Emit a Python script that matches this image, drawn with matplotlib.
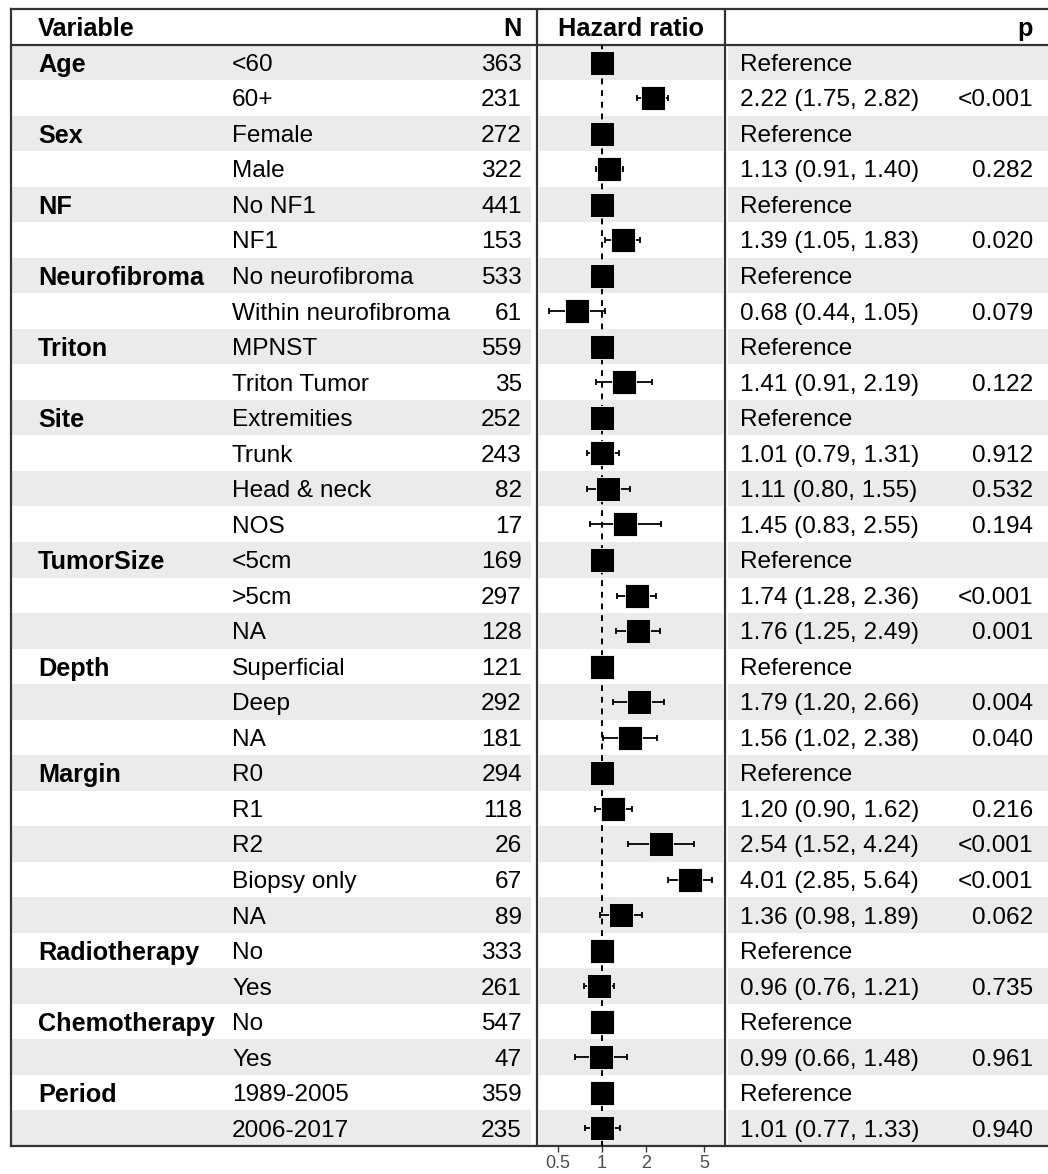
import matplotlib
matplotlib.use('Agg')
import matplotlib.pyplot as plt
import numpy as np

plt.rcParams['font.family'] = ['Liberation Sans', 'DejaVu Sans']

# one entry per table row
variables = ['Age', '', 'Sex', '', 'NF', '', 'Neurofibroma', '', 'Triton', '',
             'Site', '', '', '', 'TumorSize', '', '', 'Depth', '', '',
             'Margin', '', '', '', '', 'Radiotherapy', '', 'Chemotherapy', '',
             'Period', '']
levels = ['<60', '60+', 'Female', 'Male', 'No NF1', 'NF1', 'No neurofibroma',
          'Within neurofibroma', 'MPNST', 'Triton Tumor', 'Extremities', 'Trunk',
          'Head & neck', 'NOS', '<5cm', '>5cm', 'NA', 'Superficial', 'Deep', 'NA',
          'R0', 'R1', 'R2', 'Biopsy only', 'NA', 'No', 'Yes', 'No', 'Yes',
          '1989-2005', '2006-2017']
n_obs = [363, 231, 272, 322, 441, 153, 533, 61, 559, 35, 252, 243, 82, 17,
         169, 297, 128, 121, 292, 181, 294, 118, 26, 67, 89, 333, 261, 547, 47,
         359, 235]
# None = reference level
hr = [None, 2.22, None, 1.13, None, 1.39, None, 0.68, None, 1.41, None, 1.01,
      1.11, 1.45, None, 1.74, 1.76, None, 1.79, 1.56, None, 1.20, 2.54, 4.01,
      1.36, None, 0.96, None, 0.99, None, 1.01]
ci_lo = [None, 1.75, None, 0.91, None, 1.05, None, 0.44, None, 0.91, None, 0.79,
         0.80, 0.83, None, 1.28, 1.25, None, 1.20, 1.02, None, 0.90, 1.52, 2.85,
         0.98, None, 0.76, None, 0.66, None, 0.77]
ci_hi = [None, 2.82, None, 1.40, None, 1.83, None, 1.05, None, 2.19, None, 1.31,
         1.55, 2.55, None, 2.36, 2.49, None, 2.66, 2.38, None, 1.62, 4.24, 5.64,
         1.89, None, 1.21, None, 1.48, None, 1.33]
p_vals = ['', '<0.001', '', '0.282', '', '0.020', '', '0.079', '', '0.122', '',
          '0.912', '0.532', '0.194', '', '<0.001', '0.001', '', '0.004', '0.040',
          '', '0.216', '<0.001', '<0.001', '0.062', '', '0.735', '', '0.961', '',
          '0.940']
hr_ticks = [0.5, 1, 2, 5]

W, H = 1048, 1174
nrow = len(levels)
rows = np.arange(nrow)

fig = plt.figure(figsize=(W / 100, H / 100), dpi=100)

# table axes, x in pixels, y in rows (header = -1)
top, bot, left = 9, 1146, 11
ax = fig.add_axes([left / W, 1 - bot / H, (W - left) / W, (bot - top) / H])
ax.set_xlim(left, W)
ax.set_ylim(nrow - 0.5, -1.5)
ax.set_xticks([])
ax.set_yticks([])
for s in ['left', 'top', 'bottom']:
    ax.spines[s].set_linewidth(1.6)
    ax.spines[s].set_color('#333333')
ax.spines['right'].set_visible(False)

shade = rows[rows % 2 == 0]
for x0, x1 in [(left, 531), (539, 723), (728, W)]:
    ax.barh(shade, x1 - x0, left=x0, height=1, color='#ebebeb', zorder=0)

ax.vlines([537, 725], -1.5, nrow - 0.5, color='#333333', lw=1.6)
ax.hlines(-0.5, left, W, color='#333333', lw=1.6)

fs, fsb = 17.6, 18.2
va = 'center_baseline'
ax.text(38, -1, 'Variable', fontsize=fsb, fontweight='bold', va=va)
ax.text(522, -1, 'N', fontsize=fsb, fontweight='bold', va=va, ha='right')
ax.text(631, -1, 'Hazard ratio', fontsize=fsb, fontweight='bold', va=va, ha='center')
ax.text(1033, -1, 'p', fontsize=fsb, fontweight='bold', va=va, ha='right')

for i in rows:
    if variables[i]:
        ax.text(38, i, variables[i], fontsize=fsb, fontweight='bold', va=va)
    ax.text(232, i, levels[i], fontsize=fs, va=va)
    ax.text(522, i, str(n_obs[i]), fontsize=fs, va=va, ha='right')
    if hr[i] is None:
        est = 'Reference'
    else:
        est = f'{hr[i]:.2f} ({ci_lo[i]:.2f}, {ci_hi[i]:.2f})'
    ax.text(740, i, est, fontsize=fs, va=va)
    ax.text(1033, i, p_vals[i], fontsize=fs, va=va, ha='right')

# forest panel
fx0, fx1 = 537, 725
fa = fig.add_axes([fx0 / W, 1 - bot / H, (fx1 - fx0) / W, (bot - 45) / H])
fa.patch.set_alpha(0)
fa.set_xscale('log')
x_at1, per_dbl = 601.7, 44.2
fa.set_xlim(2 ** ((fx0 - x_at1) / per_dbl), 2 ** ((fx1 - x_at1) / per_dbl))
fa.set_ylim(nrow - 0.5, -0.5)
for s in fa.spines.values():
    s.set_visible(False)
fa.set_yticks([])
fa.set_xticks(hr_ticks)
fa.set_xticklabels([f'{t:g}' for t in hr_ticks])
fa.minorticks_off()
fa.tick_params(axis='x', length=4.5, width=1, color='#333333', labelcolor='#4d4d4d',
               labelsize=13, pad=2)

fa.axvline(1, color='black', lw=1.4, ls=(0, (3, 3)), zorder=1)

est_plot = [1 if h is None else h for h in hr]
has_ci = [i for i in rows if hr[i] is not None]
lo = np.array([ci_lo[i] for i in has_ci])
hi = np.array([ci_hi[i] for i in has_ci])
mid = np.array([hr[i] for i in has_ci])
fa.errorbar(mid, has_ci, xerr=[mid - lo, hi - mid], fmt='none', ecolor='black',
            elinewidth=1.3, capsize=2.5, capthick=1.3, zorder=2)
fa.plot(est_plot, rows, ls='none', marker='s', ms=17.5, color='black',
        mec='white', mew=0.6, zorder=3)

plt.savefig('out.png', dpi=100)
